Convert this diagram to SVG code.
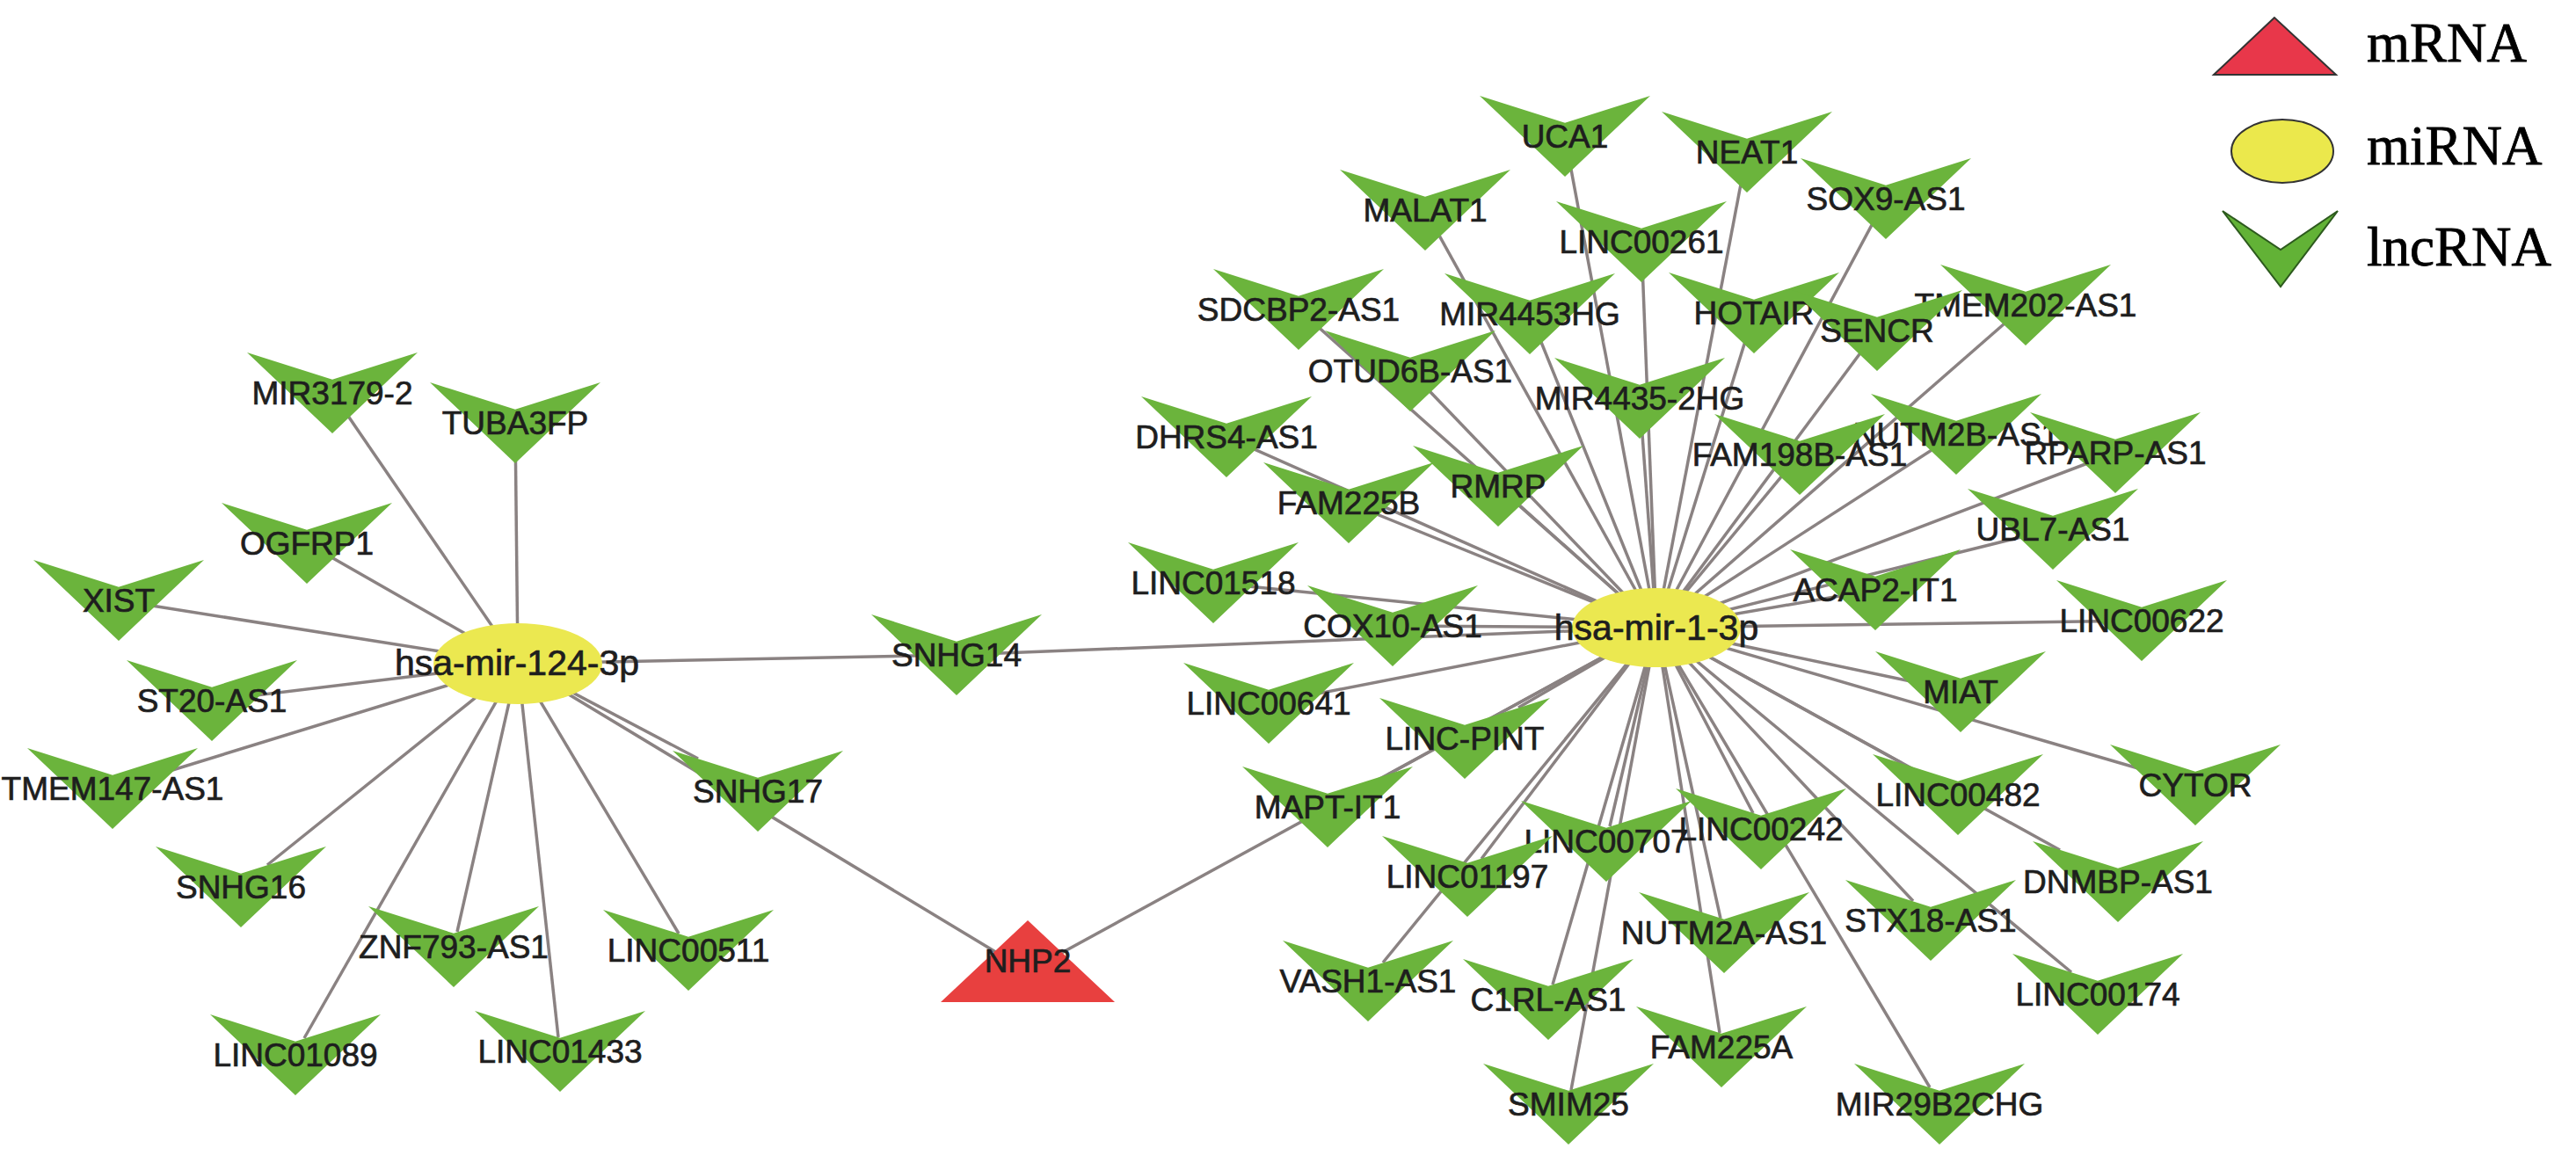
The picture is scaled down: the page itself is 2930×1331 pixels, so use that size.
<svg xmlns="http://www.w3.org/2000/svg" xmlns:xlink="http://www.w3.org/1999/xlink" width="2930" height="1331" viewBox="0 0 2930 1331">
<style>
.e{stroke:#8a8282;stroke-width:3.5;fill:none}
.v{fill:#6bb43c}
.hubs{fill:#ebe850}
.lbl{font-family:"Liberation Sans",Arial,sans-serif;font-size:37px;fill:#1e1e1e;stroke:#1e1e1e;stroke-width:0.7;text-anchor:middle}
.hl{font-size:41px}
.leg{font-family:"Liberation Serif","Times New Roman",serif;font-size:63px;fill:#000;stroke:#000;stroke-width:0.8}
</style>
<defs>
<polygon id="vee" points="-97,-46 0,-15.3 97,-46 0,46"/>
</defs>
<rect width="2930" height="1331" fill="#fff"/>
<g id="edges" class="e">
<line x1="589" y1="755" x2="378" y2="447"/>
<line x1="589" y1="755" x2="586" y2="481"/>
<line x1="589" y1="755" x2="349" y2="618"/>
<line x1="589" y1="755" x2="135" y2="683"/>
<line x1="589" y1="755" x2="241" y2="797"/>
<line x1="589" y1="755" x2="128" y2="897"/>
<line x1="589" y1="755" x2="304" y2="984"/>
<line x1="589" y1="755" x2="520" y2="1060"/>
<line x1="589" y1="755" x2="772" y2="1062"/>
<line x1="589" y1="755" x2="794" y2="863"/>
<line x1="589" y1="755" x2="346" y2="1181"/>
<line x1="589" y1="755" x2="635" y2="1180"/>
<line x1="589" y1="755" x2="1088" y2="745"/>
<line x1="589" y1="755" x2="1169" y2="1105"/>
<line x1="1884" y1="714" x2="1088" y2="745"/>
<line x1="1884" y1="714" x2="1169" y2="1105"/>
<line x1="1884" y1="714" x2="1780" y2="155"/>
<line x1="1884" y1="714" x2="1987" y2="173"/>
<line x1="1884" y1="714" x2="1621" y2="239"/>
<line x1="1884" y1="714" x2="2145" y2="226"/>
<line x1="1884" y1="714" x2="1867" y2="275"/>
<line x1="1884" y1="714" x2="1477" y2="352"/>
<line x1="1884" y1="714" x2="1740" y2="357"/>
<line x1="1884" y1="714" x2="1995" y2="356"/>
<line x1="1884" y1="714" x2="2135" y2="376"/>
<line x1="1884" y1="714" x2="2304" y2="347"/>
<line x1="1884" y1="714" x2="1604" y2="422"/>
<line x1="1884" y1="714" x2="1865" y2="453"/>
<line x1="1884" y1="714" x2="1395" y2="497"/>
<line x1="1884" y1="714" x2="2047" y2="517"/>
<line x1="1884" y1="714" x2="2225" y2="494"/>
<line x1="1884" y1="714" x2="2406" y2="515"/>
<line x1="1884" y1="714" x2="1534" y2="572"/>
<line x1="1884" y1="714" x2="1704" y2="553"/>
<line x1="1884" y1="714" x2="2335" y2="602"/>
<line x1="1884" y1="714" x2="1380" y2="663"/>
<line x1="1884" y1="714" x2="1584" y2="712"/>
<line x1="1884" y1="714" x2="2133" y2="671"/>
<line x1="1884" y1="714" x2="2436" y2="706"/>
<line x1="1884" y1="714" x2="1443" y2="800"/>
<line x1="1884" y1="714" x2="2230" y2="787"/>
<line x1="1884" y1="714" x2="1727" y2="805"/>
<line x1="1884" y1="714" x2="2497" y2="893"/>
<line x1="1884" y1="714" x2="1579" y2="881"/>
<line x1="1884" y1="714" x2="2163" y2="868"/>
<line x1="1884" y1="714" x2="1831" y2="940"/>
<line x1="1884" y1="714" x2="1994" y2="925"/>
<line x1="1884" y1="714" x2="1685" y2="977"/>
<line x1="1884" y1="714" x2="2343" y2="967"/>
<line x1="1884" y1="714" x2="1957" y2="1045"/>
<line x1="1884" y1="714" x2="2176" y2="1025"/>
<line x1="1884" y1="714" x2="1573" y2="1095"/>
<line x1="1884" y1="714" x2="1766" y2="1120"/>
<line x1="1884" y1="714" x2="2356" y2="1106"/>
<line x1="1884" y1="714" x2="1956" y2="1175"/>
<line x1="1884" y1="714" x2="1787" y2="1240"/>
<line x1="1884" y1="714" x2="2195" y2="1237"/>
</g>
<g id="nodes">
<g id="n-MIR3179-2"><use href="#vee" class="v" x="378" y="447"/><text class="lbl" x="378" y="460">MIR3179-2</text></g>
<g id="n-TUBA3FP"><use href="#vee" class="v" x="586" y="481"/><text class="lbl" x="586" y="494">TUBA3FP</text></g>
<g id="n-OGFRP1"><use href="#vee" class="v" x="349" y="618"/><text class="lbl" x="349" y="631">OGFRP1</text></g>
<g id="n-XIST"><use href="#vee" class="v" x="135" y="683"/><text class="lbl" x="135" y="696">XIST</text></g>
<g id="n-ST20-AS1"><use href="#vee" class="v" x="241" y="797"/><text class="lbl" x="241" y="810">ST20-AS1</text></g>
<g id="n-TMEM147-AS1"><use href="#vee" class="v" x="128" y="897"/><text class="lbl" x="128" y="910">TMEM147-AS1</text></g>
<g id="n-SNHG16"><use href="#vee" class="v" x="274" y="1009"/><text class="lbl" x="274" y="1022">SNHG16</text></g>
<g id="n-ZNF793-AS1"><use href="#vee" class="v" x="516" y="1077"/><text class="lbl" x="516" y="1090">ZNF793-AS1</text></g>
<g id="n-LINC00511"><use href="#vee" class="v" x="783" y="1081"/><text class="lbl" x="783" y="1094">LINC00511</text></g>
<g id="n-SNHG17"><use href="#vee" class="v" x="862" y="900"/><text class="lbl" x="862" y="913">SNHG17</text></g>
<g id="n-LINC01089"><use href="#vee" class="v" x="336" y="1200"/><text class="lbl" x="336" y="1213">LINC01089</text></g>
<g id="n-LINC01433"><use href="#vee" class="v" x="637" y="1196"/><text class="lbl" x="637" y="1209">LINC01433</text></g>
<g id="n-SNHG14"><use href="#vee" class="v" x="1088" y="745"/><text class="lbl" x="1088" y="758">SNHG14</text></g>
<g id="n-NHP2"><polygon points="1169,1047 1070,1140 1268,1140" fill="#e8403f"/><text class="lbl" x="1169" y="1106">NHP2</text></g>
<g id="n-UCA1"><use href="#vee" class="v" x="1780" y="155"/><text class="lbl" x="1780" y="168">UCA1</text></g>
<g id="n-NEAT1"><use href="#vee" class="v" x="1987" y="173"/><text class="lbl" x="1987" y="186">NEAT1</text></g>
<g id="n-MALAT1"><use href="#vee" class="v" x="1621" y="239"/><text class="lbl" x="1621" y="252">MALAT1</text></g>
<g id="n-SOX9-AS1"><use href="#vee" class="v" x="2145" y="226"/><text class="lbl" x="2145" y="239">SOX9-AS1</text></g>
<g id="n-LINC00261"><use href="#vee" class="v" x="1867" y="275"/><text class="lbl" x="1867" y="288">LINC00261</text></g>
<g id="n-SDCBP2-AS1"><use href="#vee" class="v" x="1477" y="352"/><text class="lbl" x="1477" y="365">SDCBP2-AS1</text></g>
<g id="n-MIR4453HG"><use href="#vee" class="v" x="1740" y="357"/><text class="lbl" x="1740" y="370">MIR4453HG</text></g>
<g id="n-HOTAIR"><use href="#vee" class="v" x="1995" y="356"/><text class="lbl" x="1995" y="369">HOTAIR</text></g>
<g id="n-TMEM202-AS1"><use href="#vee" class="v" x="2304" y="347"/><text class="lbl" x="2304" y="360">TMEM202-AS1</text></g>
<g id="n-SENCR"><use href="#vee" class="v" x="2135" y="376"/><text class="lbl" x="2135" y="389">SENCR</text></g>
<g id="n-OTUD6B-AS1"><use href="#vee" class="v" x="1604" y="422"/><text class="lbl" x="1604" y="435">OTUD6B-AS1</text></g>
<g id="n-MIR4435-2HG"><use href="#vee" class="v" x="1865" y="453"/><text class="lbl" x="1865" y="466">MIR4435-2HG</text></g>
<g id="n-DHRS4-AS1"><use href="#vee" class="v" x="1395" y="497"/><text class="lbl" x="1395" y="510">DHRS4-AS1</text></g>
<g id="n-NUTM2B-AS1"><use href="#vee" class="v" x="2225" y="494"/><text class="lbl" x="2225" y="507">NUTM2B-AS1</text></g>
<g id="n-FAM198B-AS1"><use href="#vee" class="v" x="2047" y="517"/><text class="lbl" x="2047" y="530">FAM198B-AS1</text></g>
<g id="n-RPARP-AS1"><use href="#vee" class="v" x="2406" y="515"/><text class="lbl" x="2406" y="528">RPARP-AS1</text></g>
<g id="n-FAM225B"><use href="#vee" class="v" x="1534" y="572"/><text class="lbl" x="1534" y="585">FAM225B</text></g>
<g id="n-RMRP"><use href="#vee" class="v" x="1704" y="553"/><text class="lbl" x="1704" y="566">RMRP</text></g>
<g id="n-UBL7-AS1"><use href="#vee" class="v" x="2335" y="602"/><text class="lbl" x="2335" y="615">UBL7-AS1</text></g>
<g id="n-LINC01518"><use href="#vee" class="v" x="1380" y="663"/><text class="lbl" x="1380" y="676">LINC01518</text></g>
<g id="n-COX10-AS1"><use href="#vee" class="v" x="1584" y="712"/><text class="lbl" x="1584" y="725">COX10-AS1</text></g>
<g id="n-ACAP2-IT1"><use href="#vee" class="v" x="2133" y="671"/><text class="lbl" x="2133" y="684">ACAP2-IT1</text></g>
<g id="n-LINC00622"><use href="#vee" class="v" x="2436" y="706"/><text class="lbl" x="2436" y="719">LINC00622</text></g>
<g id="n-LINC00641"><use href="#vee" class="v" x="1443" y="800"/><text class="lbl" x="1443" y="813">LINC00641</text></g>
<g id="n-MIAT"><use href="#vee" class="v" x="2230" y="787"/><text class="lbl" x="2230" y="800">MIAT</text></g>
<g id="n-LINC-PINT"><use href="#vee" class="v" x="1666" y="840"/><text class="lbl" x="1666" y="853">LINC-PINT</text></g>
<g id="n-CYTOR"><use href="#vee" class="v" x="2497" y="893"/><text class="lbl" x="2497" y="906">CYTOR</text></g>
<g id="n-MAPT-IT1"><use href="#vee" class="v" x="1510" y="918"/><text class="lbl" x="1510" y="931">MAPT-IT1</text></g>
<g id="n-LINC00482"><use href="#vee" class="v" x="2227" y="904"/><text class="lbl" x="2227" y="917">LINC00482</text></g>
<g id="n-LINC00707"><use href="#vee" class="v" x="1827" y="957"/><text class="lbl" x="1827" y="970">LINC00707</text></g>
<g id="n-LINC00242"><use href="#vee" class="v" x="2003" y="943"/><text class="lbl" x="2003" y="956">LINC00242</text></g>
<g id="n-LINC01197"><use href="#vee" class="v" x="1669" y="997"/><text class="lbl" x="1669" y="1010">LINC01197</text></g>
<g id="n-DNMBP-AS1"><use href="#vee" class="v" x="2409" y="1003"/><text class="lbl" x="2409" y="1016">DNMBP-AS1</text></g>
<g id="n-NUTM2A-AS1"><use href="#vee" class="v" x="1961" y="1061"/><text class="lbl" x="1961" y="1074">NUTM2A-AS1</text></g>
<g id="n-STX18-AS1"><use href="#vee" class="v" x="2196" y="1047"/><text class="lbl" x="2196" y="1060">STX18-AS1</text></g>
<g id="n-VASH1-AS1"><use href="#vee" class="v" x="1556" y="1116"/><text class="lbl" x="1556" y="1129">VASH1-AS1</text></g>
<g id="n-C1RL-AS1"><use href="#vee" class="v" x="1761" y="1137"/><text class="lbl" x="1761" y="1150">C1RL-AS1</text></g>
<g id="n-LINC00174"><use href="#vee" class="v" x="2386" y="1131"/><text class="lbl" x="2386" y="1144">LINC00174</text></g>
<g id="n-FAM225A"><use href="#vee" class="v" x="1958" y="1191"/><text class="lbl" x="1958" y="1204">FAM225A</text></g>
<g id="n-SMIM25"><use href="#vee" class="v" x="1784" y="1256"/><text class="lbl" x="1784" y="1269">SMIM25</text></g>
<g id="n-MIR29B2CHG"><use href="#vee" class="v" x="2206" y="1256"/><text class="lbl" x="2206" y="1269">MIR29B2CHG</text></g>
<g id="n-hsa-mir-124-3p"><ellipse class="hubs" cx="589" cy="755" rx="96" ry="46"/><text class="lbl hl" x="588" y="768">hsa-mir-124-3p</text></g>
<g id="n-hsa-mir-1-3p"><ellipse class="hubs" cx="1884" cy="714" rx="96" ry="45"/><text class="lbl hl" x="1884" y="728">hsa-mir-1-3p</text></g>
</g>
<g id="legend">
<polygon points="2587,20 2518,85 2657,85" fill="#e8374a" stroke="#333" stroke-width="2"/>
<text class="leg" x="2692" y="70">mRNA</text>
<ellipse cx="2596" cy="172" rx="58" ry="36" fill="#ebe84c" stroke="#333" stroke-width="2"/>
<text class="leg" x="2692" y="187">miRNA</text>
<polygon points="2528,240 2594,284 2659,240 2594,326" fill="#62b236" stroke="#2d5a1e" stroke-width="2"/>
<text class="leg" x="2692" y="302">lncRNA</text>
</g>
</svg>
